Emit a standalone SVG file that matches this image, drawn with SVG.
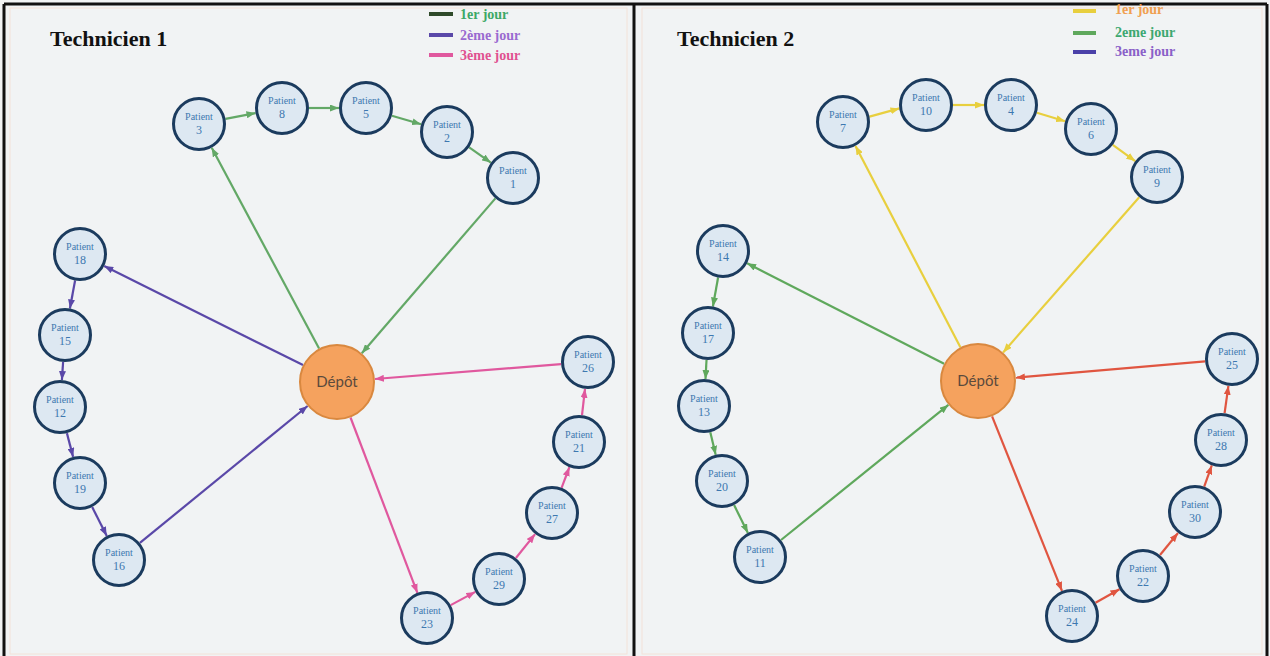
<svg xmlns="http://www.w3.org/2000/svg" width="1270" height="656" viewBox="0 0 1270 656">
<style>
.bg{fill:#f1f3f4}
.frame{fill:none;stroke:#111;stroke-width:3}
.inner{fill:none;stroke:#f3e2d8;stroke-width:1}
.title{font-family:"Liberation Serif",serif;font-weight:bold;font-size:22px;fill:#111}
.leg{font-family:"Liberation Serif",serif;font-weight:bold;font-size:14px}
.pc{fill:#dde8f2;stroke:#1b3b5e;stroke-width:3}
.pt{font-family:"Liberation Serif",serif;font-size:10px;fill:#3d78b0;text-anchor:middle}
.pn{font-family:"Liberation Serif",serif;font-size:12px;fill:#3d78b0;text-anchor:middle}
.dc{fill:#f5a25e;stroke:#d9883f;stroke-width:2}
.dt{font-family:Lato,"Liberation Sans",sans-serif;font-size:15px;fill:#5b4a3c;text-anchor:middle}
.e{stroke-width:2.2;fill:none}
.g1{stroke:#63a866;marker-end:url(#aG1)}
.p1{stroke:#5a48a8;marker-end:url(#aP1)}
.k1{stroke:#e0589e;marker-end:url(#aK1)}
.y2{stroke:#e8cf3e;marker-end:url(#aY2)}
.g2{stroke:#5fa85c;marker-end:url(#aG2)}
.r2{stroke:#e05540;marker-end:url(#aR2)}
</style>
<defs>
<marker id="aG1" markerWidth="9" markerHeight="7" refX="9" refY="3.5" orient="auto" markerUnits="userSpaceOnUse"><path d="M0,0 L9,3.5 L0,7 z" fill="#63a866"/></marker>
<marker id="aP1" markerWidth="9" markerHeight="7" refX="9" refY="3.5" orient="auto" markerUnits="userSpaceOnUse"><path d="M0,0 L9,3.5 L0,7 z" fill="#5a48a8"/></marker>
<marker id="aK1" markerWidth="9" markerHeight="7" refX="9" refY="3.5" orient="auto" markerUnits="userSpaceOnUse"><path d="M0,0 L9,3.5 L0,7 z" fill="#e0589e"/></marker>
<marker id="aY2" markerWidth="9" markerHeight="7" refX="9" refY="3.5" orient="auto" markerUnits="userSpaceOnUse"><path d="M0,0 L9,3.5 L0,7 z" fill="#e8cf3e"/></marker>
<marker id="aG2" markerWidth="9" markerHeight="7" refX="9" refY="3.5" orient="auto" markerUnits="userSpaceOnUse"><path d="M0,0 L9,3.5 L0,7 z" fill="#5fa85c"/></marker>
<marker id="aR2" markerWidth="9" markerHeight="7" refX="9" refY="3.5" orient="auto" markerUnits="userSpaceOnUse"><path d="M0,0 L9,3.5 L0,7 z" fill="#e05540"/></marker>
</defs>
<rect class="bg" x="0" y="0" width="1270" height="656"/>
<rect class="inner" x="10" y="8" width="617" height="646"/>
<rect class="inner" x="642" y="8" width="620" height="646"/>
<g id="frame">
<line class="frame" x1="4" y1="4" x2="1267" y2="4"/>
<line class="frame" x1="4" y1="4" x2="4" y2="656"/>
<line class="frame" x1="634" y1="4" x2="634" y2="656"/>
<line class="frame" x1="1267" y1="4" x2="1267" y2="656"/>
</g>
<g id="titles">
<text class="title" x="50" y="46">Technicien 1</text>
<text class="title" x="677" y="46">Technicien 2</text>
</g>
<g id="legend1">
<line x1="429" y1="14" x2="453" y2="14" stroke="#2f4a2a" stroke-width="4"/>
<text class="leg" x="460" y="19" fill="#3da866">1er jour</text>
<line x1="429" y1="35" x2="453" y2="35" stroke="#5a48a8" stroke-width="4"/>
<text class="leg" x="460" y="40" fill="#9a6ad0">2ème jour</text>
<line x1="429" y1="55" x2="453" y2="55" stroke="#e0589e" stroke-width="4"/>
<text class="leg" x="460" y="60" fill="#e05090">3ème jour</text>
</g>
<g id="legend2">
<line x1="1073" y1="11" x2="1096" y2="11" stroke="#e8cf3e" stroke-width="4"/>
<text class="leg" x="1115" y="14" fill="#f0a050">1er jour</text>
<line x1="1073" y1="33" x2="1096" y2="33" stroke="#5fa85c" stroke-width="4"/>
<text class="leg" x="1115" y="37" fill="#3da870">2eme jour</text>
<line x1="1073" y1="52" x2="1096" y2="52" stroke="#4a40a8" stroke-width="4"/>
<text class="leg" x="1115" y="56" fill="#8a60c8">3eme jour</text>
</g>
<g id="connectors">
<line class="e g1" x1="319.1" y1="348.5" x2="211.7" y2="147.8"/>
<line class="e g1" x1="225.5" y1="118.9" x2="255.5" y2="113.1"/>
<line class="e g1" x1="309" y1="108" x2="339" y2="108"/>
<line class="e g1" x1="391.9" y1="115.7" x2="421.1" y2="124.3"/>
<line class="e g1" x1="469.2" y1="147.4" x2="490.8" y2="162.6"/>
<line class="e g1" x1="495.4" y1="198.4" x2="361.8" y2="353.2"/>
<line class="e p1" x1="303" y1="365.1" x2="104.2" y2="266"/>
<line class="e p1" x1="75.1" y1="280.5" x2="69.9" y2="308.5"/>
<line class="e p1" x1="63.1" y1="361.9" x2="61.9" y2="380.1"/>
<line class="e p1" x1="66.9" y1="433.1" x2="73.1" y2="456.9"/>
<line class="e p1" x1="92.2" y1="507.1" x2="106.8" y2="535.9"/>
<line class="e p1" x1="139.9" y1="542.9" x2="307.6" y2="406"/>
<line class="e k1" x1="350.5" y1="417.5" x2="417.4" y2="592.8"/>
<line class="e k1" x1="450.7" y1="605.1" x2="475.3" y2="591.9"/>
<line class="e k1" x1="515.9" y1="558" x2="535.1" y2="534.1"/>
<line class="e k1" x1="561.6" y1="487.8" x2="569.4" y2="467.2"/>
<line class="e k1" x1="582" y1="415.2" x2="585" y2="388.8"/>
<line class="e k1" x1="561.1" y1="364.1" x2="374.9" y2="379"/>
<line class="e y2" x1="960.4" y1="347.3" x2="855.5" y2="145.9"/>
<line class="e y2" x1="869.5" y1="116.6" x2="899.5" y2="108.4"/>
<line class="e y2" x1="953" y1="105" x2="984" y2="105"/>
<line class="e y2" x1="1036.9" y1="112.8" x2="1065.1" y2="121.2"/>
<line class="e y2" x1="1112.8" y1="144.9" x2="1135.2" y2="161.1"/>
<line class="e y2" x1="1139.2" y1="197.3" x2="1003.1" y2="352.4"/>
<line class="e g2" x1="944.1" y1="363.7" x2="747.1" y2="263.3"/>
<line class="e g2" x1="718.1" y1="277.5" x2="712.9" y2="306.5"/>
<line class="e g2" x1="706.5" y1="360" x2="705.5" y2="379"/>
<line class="e g2" x1="710.3" y1="432.2" x2="715.7" y2="454.8"/>
<line class="e g2" x1="734.1" y1="505.1" x2="747.9" y2="532.9"/>
<line class="e g2" x1="781" y1="540" x2="948.4" y2="404.9"/>
<line class="e r2" x1="992.1" y1="416.3" x2="1062" y2="590.9"/>
<line class="e r2" x1="1095.5" y1="602.7" x2="1119.5" y2="589.3"/>
<line class="e r2" x1="1160" y1="555" x2="1178" y2="533"/>
<line class="e r2" x1="1204.2" y1="486.6" x2="1211.8" y2="465.4"/>
<line class="e r2" x1="1224.6" y1="413.2" x2="1228.4" y2="385.8"/>
<line class="e r2" x1="1205.1" y1="361.3" x2="1015.9" y2="377.7"/>
</g>
<g id="depot1"><circle class="dc" cx="337" cy="382" r="37"/><text class="dt" x="337" y="387">Dépôt</text></g>
<g id="depot2"><circle class="dc" cx="978" cy="381" r="37"/><text class="dt" x="978" y="386">Dépôt</text></g>
<g id="p3"><circle class="pc" cx="199" cy="124" r="25.5"/><text class="pt" x="199" y="120">Patient</text><text class="pn" x="199" y="134">3</text></g>
<g id="p8"><circle class="pc" cx="282" cy="108" r="25.5"/><text class="pt" x="282" y="104">Patient</text><text class="pn" x="282" y="118">8</text></g>
<g id="p5"><circle class="pc" cx="366" cy="108" r="25.5"/><text class="pt" x="366" y="104">Patient</text><text class="pn" x="366" y="118">5</text></g>
<g id="p2"><circle class="pc" cx="447" cy="132" r="25.5"/><text class="pt" x="447" y="128">Patient</text><text class="pn" x="447" y="142">2</text></g>
<g id="p1"><circle class="pc" cx="513" cy="178" r="25.5"/><text class="pt" x="513" y="174">Patient</text><text class="pn" x="513" y="188">1</text></g>
<g id="p18"><circle class="pc" cx="80" cy="254" r="25.5"/><text class="pt" x="80" y="250">Patient</text><text class="pn" x="80" y="264">18</text></g>
<g id="p15"><circle class="pc" cx="65" cy="335" r="25.5"/><text class="pt" x="65" y="331">Patient</text><text class="pn" x="65" y="345">15</text></g>
<g id="p12"><circle class="pc" cx="60" cy="407" r="25.5"/><text class="pt" x="60" y="403">Patient</text><text class="pn" x="60" y="417">12</text></g>
<g id="p19"><circle class="pc" cx="80" cy="483" r="25.5"/><text class="pt" x="80" y="479">Patient</text><text class="pn" x="80" y="493">19</text></g>
<g id="p16"><circle class="pc" cx="119" cy="560" r="25.5"/><text class="pt" x="119" y="556">Patient</text><text class="pn" x="119" y="570">16</text></g>
<g id="p26"><circle class="pc" cx="588" cy="362" r="25.5"/><text class="pt" x="588" y="358">Patient</text><text class="pn" x="588" y="372">26</text></g>
<g id="p21"><circle class="pc" cx="579" cy="442" r="25.5"/><text class="pt" x="579" y="438">Patient</text><text class="pn" x="579" y="452">21</text></g>
<g id="p27"><circle class="pc" cx="552" cy="513" r="25.5"/><text class="pt" x="552" y="509">Patient</text><text class="pn" x="552" y="523">27</text></g>
<g id="p29"><circle class="pc" cx="499" cy="579" r="25.5"/><text class="pt" x="499" y="575">Patient</text><text class="pn" x="499" y="589">29</text></g>
<g id="p23"><circle class="pc" cx="427" cy="618" r="25.5"/><text class="pt" x="427" y="614">Patient</text><text class="pn" x="427" y="628">23</text></g>
<g id="p7"><circle class="pc" cx="843" cy="122" r="25.5"/><text class="pt" x="843" y="118">Patient</text><text class="pn" x="843" y="132">7</text></g>
<g id="p10"><circle class="pc" cx="926" cy="105" r="25.5"/><text class="pt" x="926" y="101">Patient</text><text class="pn" x="926" y="115">10</text></g>
<g id="p4"><circle class="pc" cx="1011" cy="105" r="25.5"/><text class="pt" x="1011" y="101">Patient</text><text class="pn" x="1011" y="115">4</text></g>
<g id="p6"><circle class="pc" cx="1091" cy="129" r="25.5"/><text class="pt" x="1091" y="125">Patient</text><text class="pn" x="1091" y="139">6</text></g>
<g id="p9"><circle class="pc" cx="1157" cy="177" r="25.5"/><text class="pt" x="1157" y="173">Patient</text><text class="pn" x="1157" y="187">9</text></g>
<g id="p14"><circle class="pc" cx="723" cy="251" r="25.5"/><text class="pt" x="723" y="247">Patient</text><text class="pn" x="723" y="261">14</text></g>
<g id="p17"><circle class="pc" cx="708" cy="333" r="25.5"/><text class="pt" x="708" y="329">Patient</text><text class="pn" x="708" y="343">17</text></g>
<g id="p13"><circle class="pc" cx="704" cy="406" r="25.5"/><text class="pt" x="704" y="402">Patient</text><text class="pn" x="704" y="416">13</text></g>
<g id="p20"><circle class="pc" cx="722" cy="481" r="25.5"/><text class="pt" x="722" y="477">Patient</text><text class="pn" x="722" y="491">20</text></g>
<g id="p11"><circle class="pc" cx="760" cy="557" r="25.5"/><text class="pt" x="760" y="553">Patient</text><text class="pn" x="760" y="567">11</text></g>
<g id="p25"><circle class="pc" cx="1232" cy="359" r="25.5"/><text class="pt" x="1232" y="355">Patient</text><text class="pn" x="1232" y="369">25</text></g>
<g id="p28"><circle class="pc" cx="1221" cy="440" r="25.5"/><text class="pt" x="1221" y="436">Patient</text><text class="pn" x="1221" y="450">28</text></g>
<g id="p30"><circle class="pc" cx="1195" cy="512" r="25.5"/><text class="pt" x="1195" y="508">Patient</text><text class="pn" x="1195" y="522">30</text></g>
<g id="p22"><circle class="pc" cx="1143" cy="576" r="25.5"/><text class="pt" x="1143" y="572">Patient</text><text class="pn" x="1143" y="586">22</text></g>
<g id="p24"><circle class="pc" cx="1072" cy="616" r="25.5"/><text class="pt" x="1072" y="612">Patient</text><text class="pn" x="1072" y="626">24</text></g>
</svg>
